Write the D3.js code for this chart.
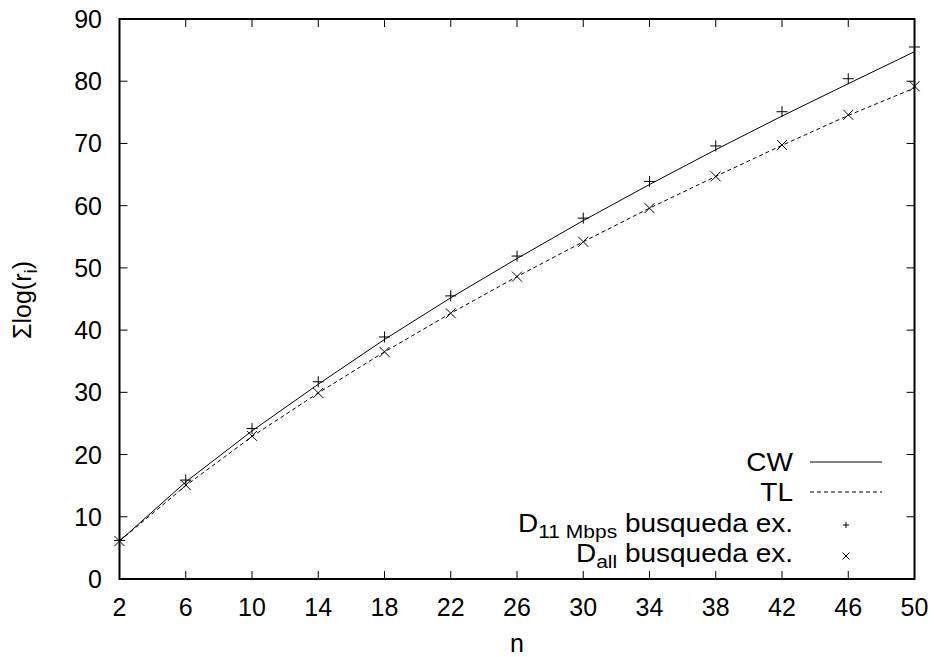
<!DOCTYPE html>
<html>
<head>
<meta charset="utf-8">
<script src="https://cdn.jsdelivr.net/npm/d3@7"></script>
<style>
  html, body { margin: 0; padding: 0; background: #fff; }
  svg { display: block; font-family: "Liberation Sans", Arial, Helvetica, sans-serif; }
</style>
</head>
<body>
<svg id="chart" width="934" height="657"></svg>
<script>
// ---- data ----
const nValues = [2, 6, 10, 14, 18, 22, 26, 30, 34, 38, 42, 46, 50];
const cwLine  = [6.1, 15.6, 23.8, 31.3, 38.5, 45.2, 51.5, 57.6, 63.4, 69.0, 74.4, 79.6, 84.75];
const tlLine  = [6.1, 15.0, 22.9, 29.9, 36.5, 42.7, 48.6, 54.2, 59.6, 64.7, 69.7, 74.5, 78.9];
const d11Points  = [6.2, 15.9, 24.2, 31.7, 38.9, 45.5, 51.9, 58.0, 63.9, 69.6, 75.1, 80.4, 85.5];
const dallPoints = [6.1, 15.1, 23.0, 29.9, 36.5, 42.7, 48.6, 54.2, 59.6, 64.7, 69.75, 74.6, 79.2];
const xTicks = [2, 6, 10, 14, 18, 22, 26, 30, 34, 38, 42, 46, 50];
const yTicks = [0, 10, 20, 30, 40, 50, 60, 70, 80, 90];

// ---- layout ----
const svg = d3.select("#chart");
const L = 119.5, R = 914.5, T = 19, B = 579;
const x = d3.scaleLinear().domain([2, 50]).range([L, R]);
const y = d3.scaleLinear().domain([0, 90]).range([B, T]);
const FS = 25;
const tickLen = 8;

// ticks (inward, mirrored)
const tg = svg.append("g").attr("stroke", "#000").attr("stroke-width", 1);
xTicks.forEach(v => {
  tg.append("line").attr("x1", x(v)).attr("x2", x(v)).attr("y1", B).attr("y2", B - tickLen);
  tg.append("line").attr("x1", x(v)).attr("x2", x(v)).attr("y1", T).attr("y2", T + tickLen);
});
yTicks.forEach(v => {
  tg.append("line").attr("x1", L).attr("x2", L + tickLen).attr("y1", y(v)).attr("y2", y(v));
  tg.append("line").attr("x1", R).attr("x2", R - tickLen).attr("y1", y(v)).attr("y2", y(v));
});

// tick labels
const lab = svg.append("g").attr("font-size", FS).attr("fill", "#000");
xTicks.forEach(v => {
  lab.append("text").attr("x", x(v)).attr("y", 616).attr("text-anchor", "middle").text(v);
});
yTicks.forEach(v => {
  lab.append("text").attr("x", 102).attr("y", y(v)).attr("dy", "0.36em").attr("text-anchor", "end").text(v);
});

// axis labels
svg.append("text").attr("x", 517).attr("y", 652).attr("text-anchor", "middle")
  .attr("font-size", FS).text("n");
const yl = svg.append("text").attr("transform", "translate(31,300) rotate(-90)")
  .attr("text-anchor", "middle").attr("font-size", FS);
yl.append("tspan").text("Σlog(r");
yl.append("tspan").attr("font-size", FS * 0.75).attr("dy", 6).text("i");
yl.append("tspan").attr("dy", -6).text(")");

// lines
const line = d3.line().x((d, i) => x(nValues[i])).y(d => y(d));
svg.append("path").datum(cwLine).attr("d", line).attr("fill", "none")
  .attr("stroke", "#000").attr("stroke-width", 1);
svg.append("path").datum(tlLine).attr("d", line).attr("fill", "none")
  .attr("stroke", "#000").attr("stroke-width", 1).attr("stroke-dasharray", "4,3");

// markers
function plus(g, cx, cy, s) {
  g.append("path").attr("d", `M${cx - s},${cy}H${cx + s}M${cx},${cy - s}V${cy + s}`);
}
function cross(g, cx, cy, s) {
  g.append("path").attr("d", `M${cx - s},${cy - s}L${cx + s},${cy + s}M${cx - s},${cy + s}L${cx + s},${cy - s}`);
}
const mg = svg.append("g").attr("stroke", "#000").attr("stroke-width", 1).attr("fill", "none");
d11Points.forEach((v, i) => plus(mg, x(nValues[i]), y(v), 5.5));
dallPoints.forEach((v, i) => cross(mg, x(nValues[i]), y(v), 5));

// border
svg.append("rect").attr("x", L).attr("y", T).attr("width", R - L).attr("height", B - T)
  .attr("fill", "none").attr("stroke", "#000").attr("stroke-width", 2);

// legend
const legendItems = [
  { label: "CW", sub: null, rest: null, type: "solid" },
  { label: "TL", sub: null, rest: null, type: "dash" },
  { label: "D", sub: "11 Mbps", rest: " busqueda ex.", type: "plus" },
  { label: "D", sub: "all", rest: " busqueda ex.", type: "cross" }
];
const legY = [462, 492, 523, 553];
const lg = svg.append("g");
legendItems.forEach((it, i) => {
  const cy = legY[i];
  const t = lg.append("text").attr("transform", `translate(793,${cy}) scale(1.12,1)`)
    .attr("dy", "0.36em").attr("text-anchor", "end").attr("font-size", FS);
  t.append("tspan").text(it.label);
  if (it.sub) {
    t.append("tspan").attr("font-size", FS * 0.75).attr("dy", 6).text(it.sub);
    t.append("tspan").attr("dy", -6).text(it.rest);
  }
  const g = lg.append("g").attr("stroke", "#000").attr("stroke-width", 1).attr("fill", "none");
  if (it.type === "solid") g.append("line").attr("x1", 810).attr("x2", 882).attr("y1", cy).attr("y2", cy);
  if (it.type === "dash") g.append("line").attr("x1", 810).attr("x2", 882).attr("y1", cy).attr("y2", cy).attr("stroke-dasharray", "4,3");
  if (it.type === "plus") plus(g, 846, cy + 2, 3);
  if (it.type === "cross") cross(g, 846, cy + 3, 3.5);
});
</script>
</body>
</html>
